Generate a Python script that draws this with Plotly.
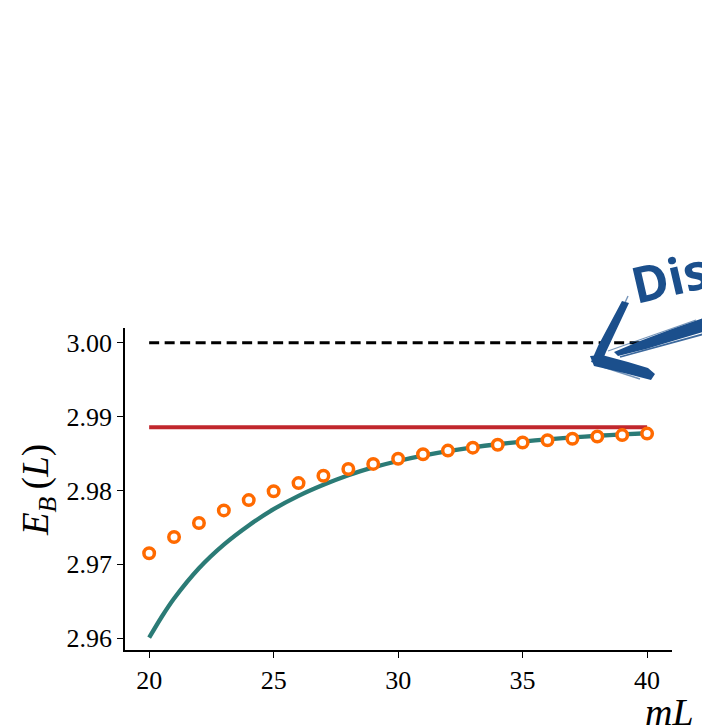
import plotly.graph_objects as go

# Binding energy vs. box size mL
mL_points = list(range(20, 41))
E_lattice = [2.9715, 2.9737, 2.9756, 2.9773, 2.9787, 2.9799, 2.9810, 2.9820,
             2.9829, 2.9836, 2.9843, 2.9849, 2.9854, 2.9858, 2.9862, 2.9865,
             2.9868, 2.9870, 2.9873, 2.9875, 2.9877]

# Finite-volume prediction
mL_curve = [20, 20.5, 21, 22, 23, 24, 25, 26, 27, 28, 29, 30, 31, 32, 33,
            34, 35, 36, 37, 38, 39, 40]
E_curve = [2.96007, 2.96287, 2.96537, 2.96947, 2.97267, 2.97527, 2.97747,
           2.97927, 2.98077, 2.98207, 2.98312, 2.98399, 2.98471, 2.98532,
           2.98583, 2.98626, 2.98662, 2.98693, 2.98719, 2.98741, 2.98759,
           2.98775]

mL_span = [20, 40]
E_infinite = 2.98857
E_threshold = 3.00

y_ticks = [2.96, 2.97, 2.98, 2.99, 3.00]
x_ticks = [20, 25, 30, 35, 40]

W, H = 702, 726
ML, MR, MT, MB = 125, 30, 328, 76
PW, PH = W - ML - MR, H - MT - MB

SERIF = "Liberation Serif"
BLUE = "#1b4f8c"


def px(x):
    return (x - ML) / PW


def py(y):
    return (H - MB - y) / PH


def path(points, close=True):
    s = "M " + " L ".join(f"{px(a):.5f},{py(b):.5f}" for a, b in points)
    return s + (" Z" if close else "")


fig = go.Figure()

fig.add_trace(go.Scatter(
    x=mL_span, y=[E_threshold] * 2, mode="lines",
    line=dict(color="black", width=3, dash="10px,5.5px"), hoverinfo="skip"))
fig.add_trace(go.Scatter(
    x=mL_span, y=[E_infinite] * 2, mode="lines",
    line=dict(color="#c1272d", width=4), hoverinfo="skip"))
fig.add_trace(go.Scatter(
    x=mL_curve, y=E_curve, mode="lines",
    line=dict(color="#2b7b76", width=4.3, shape="spline", smoothing=0.8),
    hoverinfo="skip"))
fig.add_trace(go.Scatter(
    x=mL_points, y=E_lattice, mode="markers",
    marker=dict(symbol="circle", size=10.5, color="white",
                line=dict(color="#ff6a00", width=3.5)), hoverinfo="skip"))

# Hand-drawn arrow
shapes = []
brush = [
    # shaft
    [(706, 317), (672, 329), (640, 341), (614, 352), (618, 356), (646, 349), (676, 340), (706, 331)],
    # upper barb
    [(622, 301), (629, 303), (606, 352), (601, 364), (591, 362), (598, 346)],
    # lower barb
    [(590, 356), (602, 355), (628, 362), (648, 368), (655, 374), (651, 380), (624, 373), (594, 366)],
]
for poly in brush:
    shapes.append(dict(type="path", xref="paper", yref="paper", path=path(poly),
                       fillcolor=BLUE, line=dict(width=0), layer="above"))
streaks = [
    ((704, 334), (620, 357), 1.8, 0.85),
    ((696, 320), (608, 351), 1.2, 0.6),
    ((628, 296), (610, 336), 1.4, 0.6),
    ((603, 367), (640, 379), 1.4, 0.6),
]
for (x0, y0), (x1, y1), w, op in streaks:
    shapes.append(dict(type="line", xref="paper", yref="paper",
                       x0=px(x0), y0=py(y0), x1=px(x1), y1=py(y1),
                       line=dict(color=BLUE, width=w), opacity=op, layer="above"))

annotations = [
    dict(text="Dis", xref="paper", yref="paper", x=px(669), y=py(277),
         xanchor="center", yanchor="middle", showarrow=False, textangle=-13,
         font=dict(family="Open Sans", size=50, color=BLUE, weight="bold")),
    dict(text="<i>E</i><sub><i>B</i></sub>\u2009(<i>L</i>)", xref="paper", yref="paper",
         x=px(38), y=py(490), xanchor="center", yanchor="middle",
         showarrow=False, textangle=-90,
         font=dict(family=SERIF, size=37, color="black")),
    dict(text="<i>mL</i>", xref="paper", yref="paper",
         x=px(669), y=py(712), xanchor="center", yanchor="middle",
         showarrow=False,
         font=dict(family=SERIF, size=38, color="black")),
]

fig.update_layout(
    width=W, height=H, margin=dict(l=ML, r=MR, t=MT, b=MB),
    paper_bgcolor="white", plot_bgcolor="white", showlegend=False,
    shapes=shapes, annotations=annotations,
    font=dict(family=SERIF, size=26, color="black"),
    xaxis=dict(range=[19.03, 41.0], tickvals=x_ticks, ticks="outside",
               ticklen=6, tickwidth=1.3, tickcolor="black", showline=True,
               linecolor="black", linewidth=1.5, showgrid=False, zeroline=False,
               tickfont=dict(family=SERIF, size=26)),
    yaxis=dict(range=[2.9584, 3.002], tickvals=y_ticks, tickformat=".2f",
               ticks="outside", ticklen=6, tickwidth=1.3, tickcolor="black",
               showline=True, linecolor="black", linewidth=1.5, showgrid=False,
               zeroline=False, tickfont=dict(family=SERIF, size=26)),
)

fig.write_html("out.html")
